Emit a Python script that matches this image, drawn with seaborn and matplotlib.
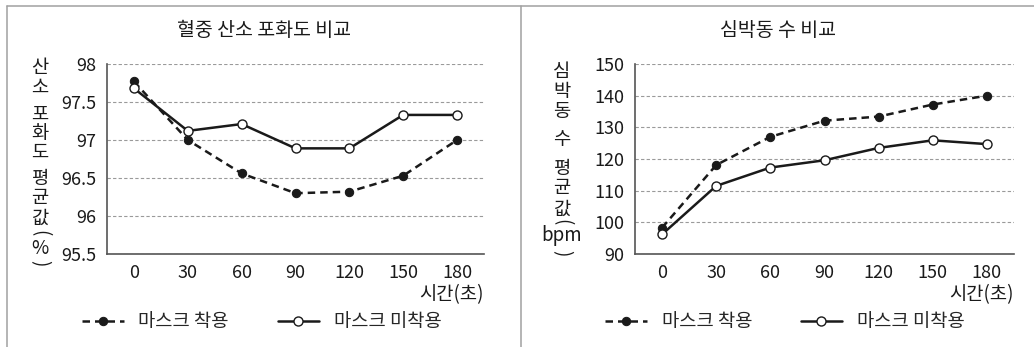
import matplotlib
matplotlib.use("Agg")
import matplotlib.pyplot as plt
from matplotlib.lines import Line2D
import seaborn as sns

# data
times = [0, 30, 60, 90, 120, 150, 180]
spo2_mask = [97.77, 97.0, 96.56, 96.3, 96.32, 96.53, 97.0]
spo2_nomask = [97.68, 97.12, 97.21, 96.89, 96.89, 97.33, 97.33]
hr_mask = [98.3, 118.1, 127.0, 132.1, 133.4, 137.2, 140.0]
hr_nomask = [96.2, 111.5, 117.3, 119.6, 123.5, 125.9, 124.7]
spo2_ticks = [95.5, 96, 96.5, 97, 97.5, 98]
hr_ticks = [90, 100, 110, 120, 130, 140, 150]

series_names = ["마스크 착용", "마스크 미착용"]
titles = ["혈중 산소 포화도 비교", "심박동 수 비교"]
xlabel = "시간(초)"

sns.set_style("white")
plt.rcParams["font.family"] = ["Noto Sans CJK KR", "DejaVu Sans"]

W, H = 1034, 347
fig = plt.figure(figsize=(W / 100, H / 100), dpi=100)


def fx(px):
    return px / W


def fy(py):
    return 1 - py / H


ax1 = fig.add_axes([fx(107), fy(254), fx(377), 190 / H])
ax2 = fig.add_axes([fx(635), fy(254), fx(379), 190 / H])

ink = "#1a1a1a"
grey = "#555555"


def draw_panel(ax, on, off, ticks):
    sns.lineplot(x=times, y=on, ax=ax, color=ink, lw=1.8, ls=(0, (3, 2)),
                 marker="o", markersize=6, markerfacecolor=ink,
                 markeredgecolor=ink, label=series_names[0], legend=False)
    sns.lineplot(x=times, y=off, ax=ax, color=ink, lw=1.8, ls="-",
                 marker="o", markersize=6.5, markerfacecolor="white",
                 markeredgecolor=ink, markeredgewidth=1.0,
                 label=series_names[1], legend=False)
    ax.set_xlim(-15, 195)
    ax.set_ylim(ticks[0], ticks[-1])
    ax.set_xticks(times)
    ax.set_xticklabels([str(t) for t in times])
    ax.set_xticks([t - 15 for t in times] + [195], minor=True)
    ax.tick_params(axis="x", which="major", length=0, pad=7,
                   labelsize=13, colors=ink)
    ax.tick_params(axis="x", which="minor", length=5, width=1.2,
                   direction="in", color=grey)
    ax.set_yticks(ticks)
    ax.set_yticklabels([f"{v:g}" for v in ticks])
    ax.tick_params(axis="y", length=5, width=1.2, direction="out",
                   pad=3, labelsize=13, color=grey, labelcolor=ink)
    ax.yaxis.grid(True, ls=(0, (3, 2)), color="#9a9a9a", lw=0.8)
    ax.xaxis.grid(False)
    for s in ["top", "right"]:
        ax.spines[s].set_visible(False)
    for s in ["left", "bottom"]:
        ax.spines[s].set_color(grey)
        ax.spines[s].set_linewidth(1.2)
    ax.set_xlabel("")
    ax.set_ylabel("")
    ax.text(1.0, -0.215, xlabel, transform=ax.transAxes, ha="right",
            va="center", fontsize=13.5, color=ink)


draw_panel(ax1, spo2_mask, spo2_nomask, spo2_ticks)
draw_panel(ax2, hr_mask, hr_nomask, hr_ticks)

# titles centred on each panel
fig.text(fx(264), fy(31), titles[0], ha="center", va="center",
         fontsize=14, color=ink)
fig.text(fx(778), fy(31), titles[1], ha="center", va="center",
         fontsize=14, color=ink)


# vertical (stacked) y labels; brackets turned on their side
def vertical_label(x_px, y_px, parts):
    y = y_px
    for txt, step in parts:
        if txt.strip():
            rot = 270 if txt in "()" else 0
            fig.text(fx(x_px), fy(y), txt, ha="center", va="center",
                     fontsize=13.5, color=ink, rotation=rot)
        y += step


vertical_label(40, 68, [("산", 19), ("소", 8), (" ", 19), ("포", 19),
                        ("화", 19), ("도", 8), (" ", 19), ("평", 19),
                        ("균", 20), ("값", 15), ("(", 15), ("%", 15),
                        (")", 0)])
vertical_label(562, 72, [("심", 20), ("박", 20), ("동", 8), (" ", 20),
                         ("수", 8), (" ", 20), ("평", 20), ("균", 21),
                         ("값", 13), ("(", 14), ("bpm", 17), (")", 0)])

# legends under each panel
for ax, cx in [(ax1, 262), (ax2, 785)]:
    fig.legend(handles=ax.lines[:2], labels=series_names, loc="center",
               bbox_to_anchor=(fx(cx), fy(322)), ncol=2, frameon=False,
               fontsize=13.5, handlelength=2.2, handletextpad=0.8,
               columnspacing=2.6)

# grey frame lines
frame = "#a0a0a0"
fig.add_artist(Line2D([fx(7), 1], [fy(6), fy(6)], color=frame, lw=1.1))
fig.add_artist(Line2D([fx(7), fx(7)], [fy(6), 0], color=frame, lw=1.1))
fig.add_artist(Line2D([fx(521), fx(521)], [fy(6), 0], color=frame, lw=1.1))

fig.savefig("out.png", dpi=100)
